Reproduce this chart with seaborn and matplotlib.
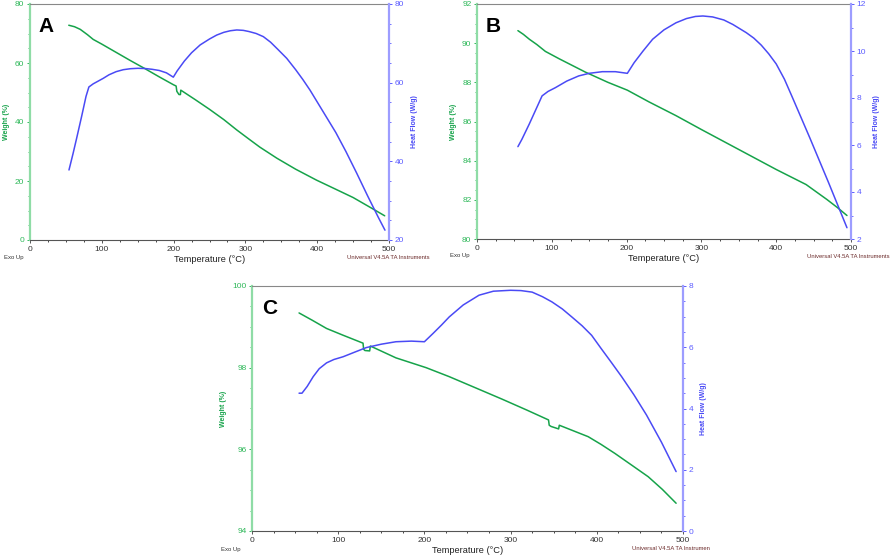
import matplotlib
matplotlib.use("Agg")
import matplotlib.pyplot as plt
import seaborn as sns
from matplotlib.ticker import MultipleLocator

# --- Panel A ---
a_temp_w = [54, 62, 70, 80, 88, 100, 120, 140, 160, 180, 200, 203.5, 204.5, 207.5, 209.5, 210,
            230, 250, 270, 288, 305, 320, 344, 370, 399, 425, 450, 475, 494]
a_weight = [72.8, 72.3, 71.4, 69.6, 68.0, 66.4, 63.6, 60.8, 58.1, 55.3, 52.6, 52.2, 50.4, 49.3, 49.3, 50.8,
            47.6, 44.3, 40.8, 37.3, 34.2, 31.5, 27.7, 24.0, 20.3, 17.3, 14.4, 10.9, 8.2]
a_temp_h = [54.3, 60, 65, 72, 78, 82, 88, 95, 102, 110, 120, 130, 140, 150, 160, 170, 180, 190, 199.6,
            205, 215, 225, 237, 250, 260, 270, 279, 288, 297, 305, 315, 325, 335, 345, 357.5, 370, 380,
            390, 400, 412, 426, 440, 455, 470, 485, 494.4]
a_heat = [37.8, 42.0, 45.9, 51.5, 56.5, 58.9, 59.7, 60.4, 61.1, 62.0, 62.8, 63.3, 63.55, 63.65, 63.6, 63.4,
          63.1, 62.5, 61.4, 63.0, 65.5, 67.6, 69.6, 71.1, 72.1, 72.8, 73.2, 73.4, 73.3, 73.0, 72.5, 71.7,
          70.3, 68.5, 66.2, 63.3, 60.8, 58.1, 55.1, 51.5, 47.3, 42.5, 37.0, 31.3, 25.8, 22.5]

# --- Panel B ---
b_temp_w = [54.7, 62, 70, 80, 91.4, 110, 145, 175, 201, 230, 266, 300, 350, 400, 440, 467.7, 482, 494.6]
b_weight = [90.64, 90.45, 90.2, 89.93, 89.58, 89.2, 88.52, 88.0, 87.6, 87.0, 86.3, 85.59, 84.57, 83.55,
            82.78, 82.02, 81.6, 81.2]
b_temp_h = [54.7, 60, 70, 80, 87, 95, 104.8, 120, 136, 150, 167.6, 185, 201, 210, 222, 234.8, 250, 266,
            280, 292, 302, 315, 330, 342, 360, 370, 380, 390, 400, 411, 422, 445, 470, 494.6]
b_heat = [5.93, 6.24, 6.9, 7.6, 8.09, 8.28, 8.44, 8.72, 8.94, 9.05, 9.12, 9.12, 9.05, 9.5, 10.0, 10.5,
          10.9, 11.2, 11.38, 11.47, 11.49, 11.45, 11.32, 11.13, 10.78, 10.55, 10.25, 9.88, 9.45, 8.8,
          8.0, 6.3, 4.4, 2.48]

# --- Panel C ---
c_temp_w = [54.6, 70, 86.5, 105, 128.8, 129.5, 131, 136.5, 137.3, 167, 202, 228.8, 260, 290, 319, 344,
            344.8, 347, 355.7, 356.5, 390, 405, 421, 440, 459.6, 476, 492]
c_weight = [99.34, 99.16, 98.96, 98.8, 98.6, 98.45, 98.42, 98.41, 98.53, 98.24, 98.0, 97.78, 97.5, 97.23,
            96.96, 96.72, 96.59, 96.56, 96.5, 96.59, 96.31, 96.12, 95.9, 95.62, 95.33, 95.02, 94.68]
c_temp_h = [54.6, 58, 64, 71, 78, 86.5, 95, 105.7, 120, 132.7, 150, 167, 185, 200, 210, 220, 228.8, 245,
            263.4, 280, 300, 312, 325, 337, 348, 360, 371, 383, 394, 405, 417, 428.8, 443, 457.6, 475, 492]
c_heat = [4.5, 4.5, 4.72, 5.04, 5.3, 5.49, 5.6, 5.69, 5.85, 5.99, 6.1, 6.18, 6.2, 6.18, 6.45, 6.73, 6.99,
          7.38, 7.7, 7.83, 7.86, 7.85, 7.8, 7.65, 7.48, 7.25, 6.99, 6.7, 6.39, 5.96, 5.5, 5.04, 4.45, 3.79,
          2.9, 1.94]

GREEN = "#16a34a"
GREEN_AX = "#2fb85a"
BLUE = "#4a4af5"
BLUE_AX = "#5c5cff"

sns.set_style("ticks")
plt.rcParams["font.family"] = ["Liberation Sans", "DejaVu Sans"]

W, H = 892, 556
fig = plt.figure(figsize=(8.92, 5.56), dpi=100)


def px_rect(x0, y0, x1, y1):
    return [x0 / W, 1 - y1 / H, (x1 - x0) / W, (y1 - y0) / H]


def panel(rect, letter, tw, wt, th, hf, wlim, wmaj, wmin, hlim, hmaj, hmin, footer):
    ax = fig.add_axes(rect)
    ax2 = ax.twinx()
    sns.lineplot(x=tw, y=wt, ax=ax, color=GREEN, lw=1.1, sort=False, estimator=None)
    sns.lineplot(x=th, y=hf, ax=ax2, color=BLUE, lw=1.1, sort=False, estimator=None)

    ax.set_xlim(0, 500)
    ax.set_ylim(*wlim)
    ax2.set_ylim(*hlim)
    ax.xaxis.set_major_locator(MultipleLocator(100))
    ax.xaxis.set_minor_locator(MultipleLocator(25))
    ax.yaxis.set_major_locator(MultipleLocator(wmaj))
    ax.yaxis.set_minor_locator(MultipleLocator(wmin))
    ax2.yaxis.set_major_locator(MultipleLocator(hmaj))
    ax2.yaxis.set_minor_locator(MultipleLocator(hmin))

    for a in (ax, ax2):
        a.tick_params(which="major", length=2.5, width=0.7, labelsize=6, pad=1.5)
        a.tick_params(which="minor", length=1.5, width=0.6)
    ax.tick_params(axis="x", colors="#555555", labelcolor="#333333")
    ax.tick_params(axis="y", which="both", colors=GREEN_AX, labelcolor=GREEN_AX)
    ax2.tick_params(axis="y", which="both", colors=BLUE_AX, labelcolor=BLUE_AX)

    ax.spines["left"].set_color("#8fdca6")
    ax.spines["left"].set_linewidth(1.6)
    ax.spines["top"].set_color("#888888")
    ax.spines["bottom"].set_color("#555555")
    ax.spines["right"].set_visible(False)
    ax2.spines["right"].set_color("#9d9dff")
    ax2.spines["right"].set_linewidth(1.6)
    for s in ("left", "top", "bottom"):
        ax2.spines[s].set_visible(False)

    ax.set_xlabel("Temperature (°C)", fontsize=6.7, color="#222222", labelpad=2)
    ax.set_ylabel("Weight (%)", fontsize=5.0, fontweight="bold", color=GREEN, labelpad=4)
    ax2.set_ylabel("Heat Flow (W/g)", fontsize=5.0, fontweight="bold", color=BLUE, labelpad=5)

    ax.text(0.024, 0.945, letter, transform=ax.transAxes, fontsize=15, fontweight="bold",
            color="black", va="top", ha="left")

    (ex, ey), (ux, uy), utext = footer
    fig.text(ex / W, 1 - ey / H, "Exo Up", fontsize=4.3, color="#333333", va="center")
    fig.text(ux / W, 1 - uy / H, utext, fontsize=4.2, color="#6b2a2a", va="center")


panel(px_rect(30, 4, 389, 240), "A", a_temp_w, a_weight, a_temp_h, a_heat,
      (0, 80), 20, 5, (20, 80), 20, 5,
      ((4, 257), (347, 257.5), "Universal V4.5A TA Instruments"))
panel(px_rect(477, 4, 851, 239), "B", b_temp_w, b_weight, b_temp_h, b_heat,
      (80, 92), 2, 0.5, (2, 12), 2, 1,
      ((450, 256), (807, 256), "Universal V4.5A TA Instruments"))
panel(px_rect(252, 286, 683, 531), "C", c_temp_w, c_weight, c_temp_h, c_heat,
      (94, 100), 2, 0.5, (0, 8), 2, 0.5,
      ((221, 549), (632, 549), "Universal V4.5A TA Instrumen"))

fig.savefig("out.png", dpi=100)
